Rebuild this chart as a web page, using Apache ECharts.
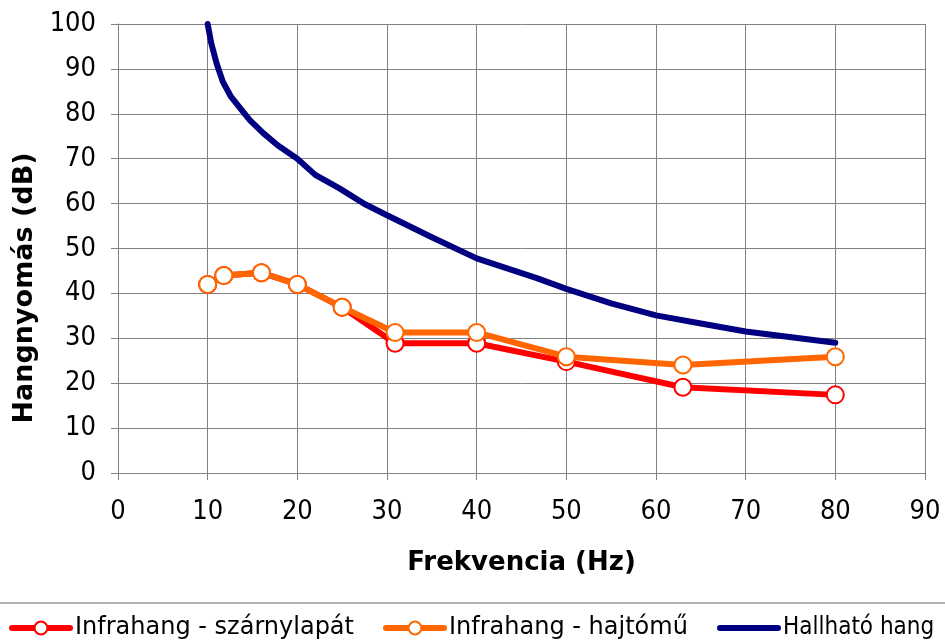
<!DOCTYPE html>
<html>
<head>
<meta charset="utf-8">
<script src="https://cdn.jsdelivr.net/npm/echarts@6/dist/echarts.min.js"></script>
<style>
html,body{margin:0;padding:0;background:#fff;}
#chart{width:945px;height:644px;}
</style>
</head>
<body>
<div id="chart"></div>
<script>
// Frequencies (Hz) of the measured points
var freqs = [10, 11.8, 16, 20, 25, 30.9, 40, 50, 63, 80];
// Infrahang - szárnylapát (dB)
var szarnylapat = [42, 44, 44.6, 42, 36.9, 28.9, 28.9, 24.8, 19.1, 17.4];
// Infrahang - hajtómű (dB)
var hajtomu = [42, 44, 44.6, 42, 36.9, 31.3, 31.3, 25.9, 24.05, 25.9];
// Hallható hang (hearing threshold) - frequency / level
var hallFreq = [10, 10.4, 11, 11.7, 12.6, 13.8, 14.7, 16.2, 17.8, 20, 22, 24.7, 27.5, 30, 35, 40, 46.7, 50, 55, 60, 65, 70, 80];
var hallLevel = [100, 95.7, 91.2, 87.1, 83.8, 80.8, 78.6, 75.7, 73, 70, 66.4, 63.4, 59.9, 57.4, 52.5, 47.8, 43.4, 41, 37.8, 35.1, 33.3, 31.5, 29];
var seriesNames = ['Infrahang - szárnylapát', 'Infrahang - hajtómű', 'Hallható hang'];
var xTitle = 'Frekvencia (Hz)';
var yTitle = 'Hangnyomás (dB)';

function pairs(xs, ys) { return xs.map(function (x, i) { return [x, ys[i]]; }); }

var FONT = 'DejaVu Sans, Verdana, sans-serif';
var CONDFONT = '"DejaVu Sans Condensed", "DejaVu Sans", sans-serif';
var chart = echarts.init(document.getElementById('chart'));
var axisGray = '#808080';

function legendAt(left, name, fontFamily, fontSize, extra) {
  var item = { name: name };
  if (extra) { for (var k in extra) item[k] = extra[k]; }
  return {
    left: left, top: 616, padding: 0, itemGap: 0, itemWidth: 58, itemHeight: 16,
    textStyle: { fontFamily: fontFamily, fontSize: fontSize, color: '#000' },
    lineStyle: { width: 'inherit' },
    data: [item]
  };
}

chart.setOption({
  animation: false,
  backgroundColor: '#fff',
  grid: { left: 118, right: 20, top: 24, bottom: 171, containLabel: false },
  xAxis: {
    type: 'value', min: 0, max: 90, interval: 10,
    name: xTitle, nameLocation: 'middle', nameGap: 77,
    nameTextStyle: { fontFamily: FONT, fontSize: 26, fontWeight: 'bold', color: '#000' },
    axisLine: { show: true, lineStyle: { color: axisGray, width: 1 } },
    axisTick: { show: true, length: 7, lineStyle: { color: axisGray } },
    axisLabel: { margin: 25, fontFamily: CONDFONT, fontSize: 27, color: '#000' },
    splitLine: { show: true, lineStyle: { color: axisGray, width: 1 } }
  },
  yAxis: {
    type: 'value', min: 0, max: 100, interval: 10,
    axisLine: { show: true, lineStyle: { color: axisGray, width: 1 } },
    axisTick: { show: true, length: 7, lineStyle: { color: axisGray } },
    axisLabel: { margin: 22, fontFamily: CONDFONT, fontSize: 27, color: '#000' },
    splitLine: { show: true, lineStyle: { color: axisGray, width: 1 } }
  },
  legend: [
    legendAt(9, seriesNames[0], FONT, 24),
    legendAt(383, seriesNames[1], FONT, 24),
    legendAt(717, seriesNames[2], CONDFONT, 24, { itemStyle: { opacity: 0 } })
  ],
  graphic: [
    { type: 'line', shape: { x1: 0, y1: 603, x2: 945, y2: 603 }, style: { stroke: '#b4b4b4', lineWidth: 2 } },
    { type: 'text', x: 25, y: 288, rotation: Math.PI / 2,
      style: { text: yTitle, fontFamily: FONT, fontSize: 27, fontWeight: 'bold', fill: '#000', align: 'center', verticalAlign: 'middle' } }
  ],
  series: [
    {
      name: seriesNames[0], type: 'line', data: pairs(freqs, szarnylapat),
      symbol: 'circle', symbolSize: 17, showSymbol: true,
      lineStyle: { color: '#ff0000', width: 6, cap: 'round', join: 'round' },
      itemStyle: { color: '#ffffff', borderColor: '#ff0000', borderWidth: 2 },
      emphasis: { disabled: true }, z: 2
    },
    {
      name: seriesNames[1], type: 'line', data: pairs(freqs, hajtomu),
      symbol: 'circle', symbolSize: 17, showSymbol: true,
      lineStyle: { color: '#ff6600', width: 6, cap: 'round', join: 'round' },
      itemStyle: { color: '#ffffff', borderColor: '#ff6600', borderWidth: 2 },
      emphasis: { disabled: true }, z: 3
    },
    {
      name: seriesNames[2], type: 'line', data: pairs(hallFreq, hallLevel),
      symbol: 'none', showSymbol: false,
      lineStyle: { color: '#000080', width: 6, cap: 'round', join: 'round' },
      itemStyle: { color: '#000080' },
      emphasis: { disabled: true }, z: 4
    }
  ]
});
</script>
</body>
</html>
